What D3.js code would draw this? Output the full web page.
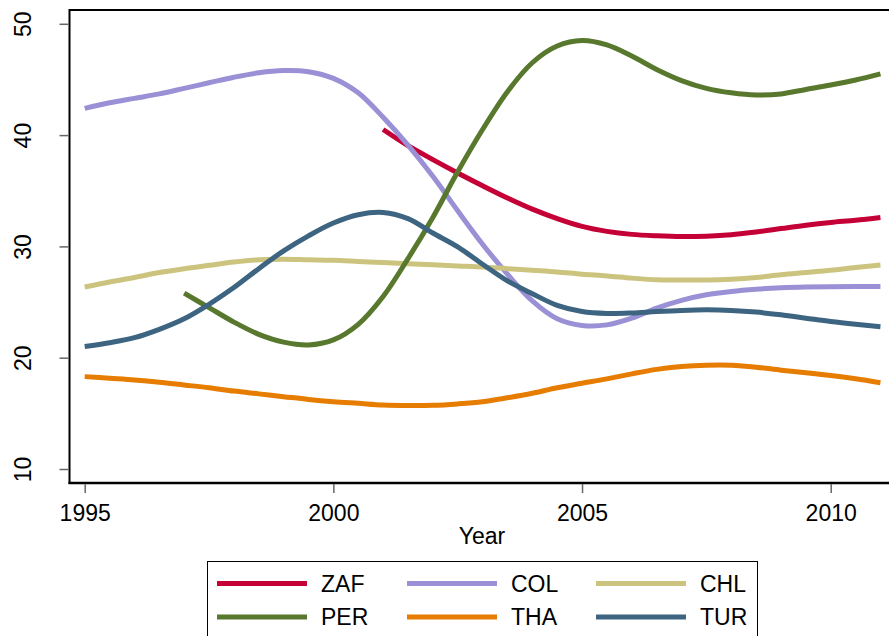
<!DOCTYPE html>
<html>
<head>
<meta charset="utf-8">
<script src="https://cdn.jsdelivr.net/npm/d3@7"></script>
<style>
  html, body { margin: 0; padding: 0; background: #fff; }
  svg { display: block; font-family: "Liberation Sans", Arial, sans-serif; }
</style>
</head>
<body>
<svg id="chart" width="889" height="636"></svg>
<script>
// ---- data ----
const years = [1995, 1995.5, 1996, 1996.5, 1997, 1997.5, 1998, 1998.5, 1999, 1999.5,
  2000, 2000.5, 2001, 2001.5, 2002, 2002.5, 2003, 2003.5, 2004, 2004.5,
  2005, 2005.5, 2006, 2006.5, 2007, 2007.5, 2008, 2008.5, 2009, 2009.5,
  2010, 2010.5, 2011];

const ZAF = [null, null, null, null, null, null, null, null, null, null, null, null,
  40.5, 39.05, 37.8, 36.6, 35.45, 34.35, 33.35, 32.5, 31.8, 31.35, 31.08, 30.95,
  30.88, 30.92, 31.05, 31.3, 31.6, 31.9, 32.15, 32.35, 32.6];
const COL = [42.4, 42.9, 43.3, 43.7, 44.2, 44.7, 45.2, 45.6, 45.8, 45.7,
  45.1, 43.8, 41.6, 39.1, 36.3, 33.2, 30.2, 27.5, 25.1, 23.5,
  22.9, 22.95, 23.55, 24.45, 25.15, 25.65, 25.95, 26.15, 26.28, 26.35,
  26.38, 26.4, 26.4];
const CHL = [26.35, 26.8, 27.2, 27.65, 28.0, 28.3, 28.6, 28.8, 28.85, 28.8,
  28.75, 28.65, 28.55, 28.45, 28.35, 28.25, 28.15, 28.0, 27.85, 27.7,
  27.5, 27.35, 27.15, 27.0, 26.98, 26.98, 27.05, 27.2, 27.45, 27.65,
  27.85, 28.1, 28.33];
const PER = [null, null, null, null,
  25.8, 24.5, 23.2, 22.1, 21.4, 21.15, 21.6, 23.0, 25.5, 28.9,
  32.6, 36.7, 40.5, 43.9, 46.5, 48.0, 48.5, 48.1, 47.1, 45.9,
  44.9, 44.2, 43.8, 43.6, 43.7, 44.1, 44.5, 44.95, 45.5];
const THA = [18.3, 18.15, 18.0, 17.8, 17.55, 17.3, 17.0, 16.75, 16.5, 16.25,
  16.05, 15.9, 15.75, 15.7, 15.72, 15.85, 16.05, 16.4, 16.8, 17.3,
  17.7, 18.1, 18.55, 18.95, 19.2, 19.32, 19.32, 19.15, 18.88, 18.65,
  18.4, 18.1, 17.75];
const TUR = [21.0, 21.35, 21.8, 22.55, 23.5, 24.8, 26.3, 28.0, 29.6, 30.95,
  32.1, 32.85, 33.05, 32.5, 31.2, 29.95, 28.4, 26.9, 25.75, 24.7,
  24.15, 23.98, 24.02, 24.15, 24.25, 24.3, 24.25, 24.1, 23.85, 23.55,
  23.25, 23.0, 22.78];

const seriesNames = ["ZAF", "COL", "CHL", "PER", "THA", "TUR"];
const seriesValues = [ZAF, COL, CHL, PER, THA, TUR];
const seriesColors = ["#c40037", "#9a90d5", "#ccc47e", "#57782d", "#e67c00", "#3d6480"];

const xTicks = [1995, 2000, 2005, 2010];
const yTicks = [10, 20, 30, 40, 50];
const xTitle = "Year";

// ---- layout ----
const svg = d3.select("#chart");
const W = 889, H = 636;
const axL = 69.5, axT = 10, axB = 483;

const x = d3.scaleLinear().domain([1995, 2010]).range([84.7, 830.7]);
const y = d3.scaleLinear().domain([10, 50]).range([469, 23.8]);

// frame lines
svg.append("line").attr("x1", axL).attr("x2", W).attr("y1", axT).attr("y2", axT)
  .attr("stroke", "#000").attr("stroke-width", 2);
svg.append("line").attr("x1", axL).attr("x2", axL).attr("y1", axT - 1).attr("y2", axB + 1)
  .attr("stroke", "#000").attr("stroke-width", 2);
svg.append("line").attr("x1", axL - 1).attr("x2", W).attr("y1", axB).attr("y2", axB)
  .attr("stroke", "#000").attr("stroke-width", 2.5);

// y axis
const yAxis = d3.axisLeft(y).tickValues(yTicks).tickSize(9).tickSizeOuter(0).tickPadding(0);
const gy = svg.append("g").attr("transform", `translate(${axL - 1},0)`).call(yAxis);
gy.select(".domain").remove();
gy.selectAll(".tick line").attr("stroke", "#666").attr("stroke-width", 1.5);
gy.selectAll(".tick text")
  .attr("font-size", 23).attr("fill", "#000")
  .attr("text-anchor", "middle")
  .attr("x", 0).attr("dy", 0)
  .attr("transform", d => `translate(${31 - (axL - 1)},0) rotate(-90)`);

// x axis
const xAxis = d3.axisBottom(x).tickValues(xTicks).tickFormat(d3.format("d"))
  .tickSize(9).tickSizeOuter(0).tickPadding(0);
const gx = svg.append("g").attr("transform", `translate(0,${axB + 1})`).call(xAxis);
gx.select(".domain").remove();
gx.selectAll(".tick line").attr("stroke", "#666").attr("stroke-width", 1.5);
gx.selectAll(".tick text")
  .attr("font-size", 23).attr("fill", "#000")
  .attr("y", 37).attr("dy", 0);

svg.append("text").attr("x", 482).attr("y", 544)
  .attr("text-anchor", "middle").attr("font-size", 23).attr("fill", "#000")
  .text(xTitle);

// lines
const line = d3.line()
  .defined(d => d.v !== null)
  .x(d => x(d.t)).y(d => y(d.v))
  .curve(d3.curveCatmullRom.alpha(0.5));

seriesNames.forEach((name, i) => {
  const pts = years.map((t, j) => ({ t, v: seriesValues[i][j] }));
  svg.append("path").datum(pts)
    .attr("fill", "none")
    .attr("stroke", seriesColors[i])
    .attr("stroke-width", 5)
    .attr("d", line);
});

// legend
const lg = svg.append("g");
lg.append("rect").attr("x", 207.5).attr("y", 561.5).attr("width", 550).attr("height", 100)
  .attr("fill", "#fff").attr("stroke", "#000").attr("stroke-width", 1);
const colX = [217, 407, 596];
const rowY = [583.5, 617];
seriesNames.forEach((name, i) => {
  const cx = colX[i % 3], cy = rowY[Math.floor(i / 3)];
  lg.append("line").attr("x1", cx).attr("x2", cx + 90).attr("y1", cy).attr("y2", cy)
    .attr("stroke", seriesColors[i]).attr("stroke-width", 5);
  lg.append("text").attr("x", cx + 104).attr("y", cy + 8)
    .attr("font-size", 23).attr("fill", "#000").text(name);
});
</script>
</body>
</html>
